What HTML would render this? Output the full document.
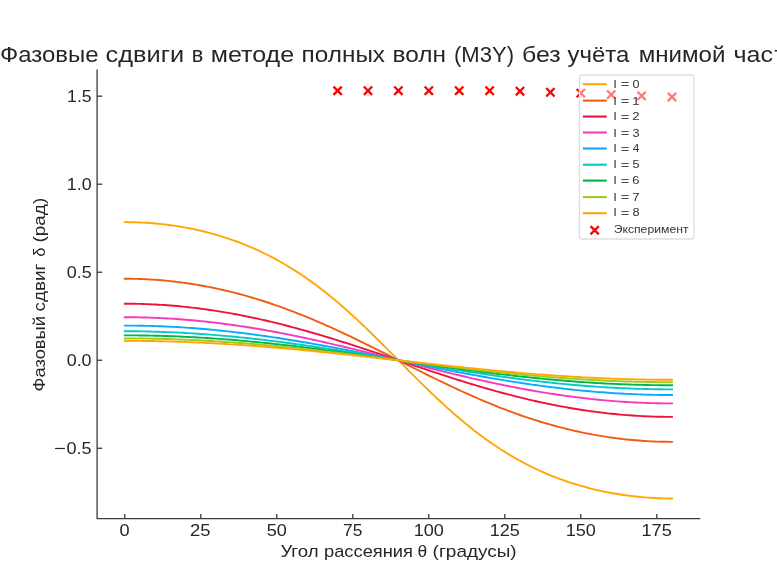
<!DOCTYPE html>
<html><head><meta charset="utf-8"><title>chart</title>
<style>
html,body{margin:0;padding:0;background:#fff;}
body{width:777px;height:583px;overflow:hidden;}
svg{display:block;will-change:transform;}
text{font-family:"Liberation Sans",sans-serif;fill:#262626;}
</style></head><body>
<svg width="777" height="583" viewBox="0 0 777 583">
<rect width="777" height="583" fill="#fff"/>
<polyline fill="none" stroke="#FFA703" stroke-width="1.90" stroke-linecap="square" stroke-linejoin="round" points="124.80,222.15 127.84,222.16 130.88,222.20 133.92,222.27 136.96,222.36 140.00,222.48 143.04,222.63 146.08,222.81 149.12,223.01 152.16,223.24 155.20,223.49 158.24,223.78 161.28,224.09 164.32,224.43 167.36,224.80 170.40,225.20 173.44,225.62 176.48,226.08 179.52,226.56 182.56,227.07 185.60,227.62 188.64,228.19 191.68,228.79 194.72,229.43 197.76,230.09 200.80,230.79 203.84,231.52 206.88,232.28 209.92,233.07 212.96,233.90 216.00,234.76 219.04,235.65 222.08,236.58 225.12,237.54 228.16,238.54 231.20,239.58 234.24,240.65 237.28,241.76 240.32,242.91 243.36,244.09 246.40,245.32 249.44,246.58 252.48,247.88 255.52,249.23 258.56,250.61 261.60,252.04 264.64,253.51 267.68,255.02 270.72,256.57 273.76,258.17 276.80,259.81 279.84,261.50 282.88,263.23 285.92,265.01 288.96,266.83 292.00,268.70 295.04,270.61 298.08,272.58 301.12,274.58 304.16,276.64 307.20,278.74 310.24,280.89 313.28,283.09 316.32,285.34 319.36,287.63 322.40,289.97 325.44,292.35 328.48,294.78 331.52,297.25 334.56,299.77 337.60,302.33 340.64,304.94 343.68,307.58 346.72,310.27 349.76,312.99 352.80,315.75 355.84,318.55 358.88,321.38 361.92,324.24 364.96,327.14 368.00,330.06 371.04,333.00 374.08,335.98 377.12,338.97 380.16,341.98 383.20,345.01 386.24,348.05 389.28,351.10 392.32,354.16 395.36,357.23 398.40,360.30 401.44,363.37 404.48,366.44 407.52,369.50 410.56,372.55 413.60,375.59 416.64,378.62 419.68,381.63 422.72,384.62 425.76,387.60 428.80,390.54 431.84,393.46 434.88,396.36 437.92,399.22 440.96,402.05 444.00,404.85 447.04,407.61 450.08,410.33 453.12,413.02 456.16,415.66 459.20,418.27 462.24,420.83 465.28,423.35 468.32,425.82 471.36,428.25 474.40,430.63 477.44,432.97 480.48,435.26 483.52,437.51 486.56,439.71 489.60,441.86 492.64,443.96 495.68,446.02 498.72,448.02 501.76,449.99 504.80,451.90 507.84,453.77 510.88,455.59 513.92,457.37 516.96,459.10 520.00,460.79 523.04,462.43 526.08,464.03 529.12,465.58 532.16,467.09 535.20,468.56 538.24,469.99 541.28,471.37 544.32,472.72 547.36,474.02 550.40,475.28 553.44,476.51 556.48,477.69 559.52,478.84 562.56,479.95 565.60,481.02 568.64,482.06 571.68,483.06 574.72,484.02 577.76,484.95 580.80,485.84 583.84,486.70 586.88,487.53 589.92,488.32 592.96,489.08 596.00,489.81 599.04,490.51 602.08,491.17 605.12,491.81 608.16,492.41 611.20,492.98 614.24,493.53 617.28,494.04 620.32,494.52 623.36,494.98 626.40,495.40 629.44,495.80 632.48,496.17 635.52,496.51 638.56,496.82 641.60,497.11 644.64,497.36 647.68,497.59 650.72,497.79 653.76,497.97 656.80,498.12 659.84,498.24 662.88,498.33 665.92,498.40 668.96,498.44 672.00,498.45"/>
<polyline fill="none" stroke="#F35C10" stroke-width="1.90" stroke-linecap="square" stroke-linejoin="round" points="124.80,278.74 127.84,278.76 130.88,278.79 133.92,278.84 136.96,278.92 140.00,279.01 143.04,279.13 146.08,279.27 149.12,279.43 152.16,279.61 155.20,279.82 158.24,280.04 161.28,280.29 164.32,280.56 167.36,280.85 170.40,281.16 173.44,281.49 176.48,281.85 179.52,282.22 182.56,282.62 185.60,283.04 188.64,283.48 191.68,283.94 194.72,284.43 197.76,284.93 200.80,285.46 203.84,286.01 206.88,286.58 209.92,287.17 212.96,287.79 216.00,288.42 219.04,289.08 222.08,289.76 225.12,290.46 228.16,291.18 231.20,291.92 234.24,292.69 237.28,293.47 240.32,294.28 243.36,295.11 246.40,295.96 249.44,296.83 252.48,297.72 255.52,298.63 258.56,299.57 261.60,300.52 264.64,301.50 267.68,302.49 270.72,303.51 273.76,304.55 276.80,305.60 279.84,306.68 282.88,307.77 285.92,308.89 288.96,310.02 292.00,311.17 295.04,312.34 298.08,313.53 301.12,314.74 304.16,315.97 307.20,317.21 310.24,318.47 313.28,319.74 316.32,321.04 319.36,322.35 322.40,323.67 325.44,325.01 328.48,326.36 331.52,327.73 334.56,329.11 337.60,330.51 340.64,331.92 343.68,333.34 346.72,334.77 349.76,336.21 352.80,337.66 355.84,339.13 358.88,340.60 361.92,342.08 364.96,343.57 368.00,345.07 371.04,346.57 374.08,348.08 377.12,349.59 380.16,351.12 383.20,352.64 386.24,354.17 389.28,355.70 392.32,357.23 395.36,358.77 398.40,360.30 401.44,361.83 404.48,363.37 407.52,364.90 410.56,366.43 413.60,367.96 416.64,369.48 419.68,371.01 422.72,372.52 425.76,374.03 428.80,375.53 431.84,377.03 434.88,378.52 437.92,380.00 440.96,381.47 444.00,382.94 447.04,384.39 450.08,385.83 453.12,387.26 456.16,388.68 459.20,390.09 462.24,391.49 465.28,392.87 468.32,394.24 471.36,395.59 474.40,396.93 477.44,398.25 480.48,399.56 483.52,400.86 486.56,402.13 489.60,403.39 492.64,404.63 495.68,405.86 498.72,407.07 501.76,408.26 504.80,409.43 507.84,410.58 510.88,411.71 513.92,412.83 516.96,413.92 520.00,415.00 523.04,416.05 526.08,417.09 529.12,418.11 532.16,419.10 535.20,420.08 538.24,421.03 541.28,421.97 544.32,422.88 547.36,423.77 550.40,424.64 553.44,425.49 556.48,426.32 559.52,427.13 562.56,427.91 565.60,428.68 568.64,429.42 571.68,430.14 574.72,430.84 577.76,431.52 580.80,432.18 583.84,432.81 586.88,433.43 589.92,434.02 592.96,434.59 596.00,435.14 599.04,435.67 602.08,436.17 605.12,436.66 608.16,437.12 611.20,437.56 614.24,437.98 617.28,438.38 620.32,438.75 623.36,439.11 626.40,439.44 629.44,439.75 632.48,440.04 635.52,440.31 638.56,440.56 641.60,440.78 644.64,440.99 647.68,441.17 650.72,441.33 653.76,441.47 656.80,441.59 659.84,441.68 662.88,441.76 665.92,441.81 668.96,441.84 672.00,441.86"/>
<polyline fill="none" stroke="#EF1339" stroke-width="1.90" stroke-linecap="square" stroke-linejoin="round" points="124.80,303.70 127.84,303.71 130.88,303.74 133.92,303.78 136.96,303.83 140.00,303.90 143.04,303.99 146.08,304.10 149.12,304.22 152.16,304.35 155.20,304.51 158.24,304.68 161.28,304.86 164.32,305.06 167.36,305.28 170.40,305.51 173.44,305.76 176.48,306.02 179.52,306.30 182.56,306.59 185.60,306.91 188.64,307.23 191.68,307.57 194.72,307.93 197.76,308.31 200.80,308.69 203.84,309.10 206.88,309.52 209.92,309.95 212.96,310.40 216.00,310.87 219.04,311.35 222.08,311.84 225.12,312.35 228.16,312.87 231.20,313.41 234.24,313.97 237.28,314.53 240.32,315.12 243.36,315.71 246.40,316.32 249.44,316.95 252.48,317.59 255.52,318.24 258.56,318.90 261.60,319.58 264.64,320.28 267.68,320.98 270.72,321.70 273.76,322.43 276.80,323.17 279.84,323.93 282.88,324.70 285.92,325.48 288.96,326.27 292.00,327.07 295.04,327.88 298.08,328.71 301.12,329.55 304.16,330.39 307.20,331.25 310.24,332.12 313.28,332.99 316.32,333.88 319.36,334.78 322.40,335.68 325.44,336.60 328.48,337.52 331.52,338.45 334.56,339.39 337.60,340.33 340.64,341.29 343.68,342.24 346.72,343.21 349.76,344.18 352.80,345.16 355.84,346.15 358.88,347.14 361.92,348.13 364.96,349.13 368.00,350.13 371.04,351.14 374.08,352.15 377.12,353.16 380.16,354.17 383.20,355.19 386.24,356.21 389.28,357.23 392.32,358.25 395.36,359.28 398.40,360.30 401.44,361.32 404.48,362.35 407.52,363.37 410.56,364.39 413.60,365.41 416.64,366.43 419.68,367.44 422.72,368.45 425.76,369.46 428.80,370.47 431.84,371.47 434.88,372.47 437.92,373.46 440.96,374.45 444.00,375.44 447.04,376.42 450.08,377.39 453.12,378.36 456.16,379.31 459.20,380.27 462.24,381.21 465.28,382.15 468.32,383.08 471.36,384.00 474.40,384.92 477.44,385.82 480.48,386.72 483.52,387.61 486.56,388.48 489.60,389.35 492.64,390.21 495.68,391.05 498.72,391.89 501.76,392.72 504.80,393.53 507.84,394.33 510.88,395.12 513.92,395.90 516.96,396.67 520.00,397.43 523.04,398.17 526.08,398.90 529.12,399.62 532.16,400.32 535.20,401.02 538.24,401.70 541.28,402.36 544.32,403.01 547.36,403.65 550.40,404.28 553.44,404.89 556.48,405.48 559.52,406.07 562.56,406.63 565.60,407.19 568.64,407.73 571.68,408.25 574.72,408.76 577.76,409.25 580.80,409.73 583.84,410.20 586.88,410.65 589.92,411.08 592.96,411.50 596.00,411.91 599.04,412.29 602.08,412.67 605.12,413.03 608.16,413.37 611.20,413.69 614.24,414.01 617.28,414.30 620.32,414.58 623.36,414.84 626.40,415.09 629.44,415.32 632.48,415.54 635.52,415.74 638.56,415.92 641.60,416.09 644.64,416.25 647.68,416.38 650.72,416.50 653.76,416.61 656.80,416.70 659.84,416.77 662.88,416.82 665.92,416.86 668.96,416.89 672.00,416.90"/>
<polyline fill="none" stroke="#F738BE" stroke-width="1.90" stroke-linecap="square" stroke-linejoin="round" points="124.80,317.21 127.84,317.21 130.88,317.23 133.92,317.26 136.96,317.31 140.00,317.37 143.04,317.44 146.08,317.52 149.12,317.61 152.16,317.72 155.20,317.84 158.24,317.97 161.28,318.11 164.32,318.27 167.36,318.44 170.40,318.62 173.44,318.82 176.48,319.02 179.52,319.24 182.56,319.47 185.60,319.71 188.64,319.97 191.68,320.23 194.72,320.51 197.76,320.80 200.80,321.11 203.84,321.42 206.88,321.75 209.92,322.09 212.96,322.43 216.00,322.80 219.04,323.17 222.08,323.55 225.12,323.95 228.16,324.35 231.20,324.77 234.24,325.20 237.28,325.64 240.32,326.09 243.36,326.55 246.40,327.02 249.44,327.50 252.48,327.99 255.52,328.49 258.56,329.00 261.60,329.52 264.64,330.05 267.68,330.59 270.72,331.14 273.76,331.70 276.80,332.27 279.84,332.85 282.88,333.44 285.92,334.03 288.96,334.64 292.00,335.25 295.04,335.87 298.08,336.50 301.12,337.13 304.16,337.78 307.20,338.43 310.24,339.08 313.28,339.75 316.32,340.42 319.36,341.10 322.40,341.78 325.44,342.48 328.48,343.17 331.52,343.87 334.56,344.58 337.60,345.30 340.64,346.01 343.68,346.74 346.72,347.47 349.76,348.20 352.80,348.93 355.84,349.67 358.88,350.42 361.92,351.17 364.96,351.92 368.00,352.67 371.04,353.42 374.08,354.18 377.12,354.94 380.16,355.70 383.20,356.47 386.24,357.23 389.28,358.00 392.32,358.77 395.36,359.53 398.40,360.30 401.44,361.07 404.48,361.83 407.52,362.60 410.56,363.37 413.60,364.13 416.64,364.90 419.68,365.66 422.72,366.42 425.76,367.18 428.80,367.93 431.84,368.68 434.88,369.43 437.92,370.18 440.96,370.93 444.00,371.67 447.04,372.40 450.08,373.13 453.12,373.86 456.16,374.59 459.20,375.30 462.24,376.02 465.28,376.73 468.32,377.43 471.36,378.12 474.40,378.82 477.44,379.50 480.48,380.18 483.52,380.85 486.56,381.52 489.60,382.17 492.64,382.82 495.68,383.47 498.72,384.10 501.76,384.73 504.80,385.35 507.84,385.96 510.88,386.57 513.92,387.16 516.96,387.75 520.00,388.33 523.04,388.90 526.08,389.46 529.12,390.01 532.16,390.55 535.20,391.08 538.24,391.60 541.28,392.11 544.32,392.61 547.36,393.10 550.40,393.58 553.44,394.05 556.48,394.51 559.52,394.96 562.56,395.40 565.60,395.83 568.64,396.25 571.68,396.65 574.72,397.05 577.76,397.43 580.80,397.80 583.84,398.17 586.88,398.51 589.92,398.85 592.96,399.18 596.00,399.49 599.04,399.80 602.08,400.09 605.12,400.37 608.16,400.63 611.20,400.89 614.24,401.13 617.28,401.36 620.32,401.58 623.36,401.78 626.40,401.98 629.44,402.16 632.48,402.33 635.52,402.49 638.56,402.63 641.60,402.76 644.64,402.88 647.68,402.99 650.72,403.08 653.76,403.16 656.80,403.23 659.84,403.29 662.88,403.34 665.92,403.37 668.96,403.39 672.00,403.39"/>
<polyline fill="none" stroke="#08ACFA" stroke-width="1.90" stroke-linecap="square" stroke-linejoin="round" points="124.80,325.58 127.84,325.58 130.88,325.60 133.92,325.62 136.96,325.66 140.00,325.71 143.04,325.76 146.08,325.83 149.12,325.91 152.16,325.99 155.20,326.09 158.24,326.20 161.28,326.32 164.32,326.45 167.36,326.58 170.40,326.73 173.44,326.89 176.48,327.06 179.52,327.24 182.56,327.42 185.60,327.62 188.64,327.83 191.68,328.05 194.72,328.28 197.76,328.51 200.80,328.76 203.84,329.01 206.88,329.28 209.92,329.55 212.96,329.84 216.00,330.13 219.04,330.44 222.08,330.75 225.12,331.07 228.16,331.40 231.20,331.74 234.24,332.08 237.28,332.44 240.32,332.80 243.36,333.18 246.40,333.56 249.44,333.95 252.48,334.35 255.52,334.75 258.56,335.17 261.60,335.59 264.64,336.02 267.68,336.45 270.72,336.90 273.76,337.35 276.80,337.81 279.84,338.28 282.88,338.75 285.92,339.23 288.96,339.72 292.00,340.21 295.04,340.71 298.08,341.21 301.12,341.73 304.16,342.24 307.20,342.77 310.24,343.30 313.28,343.83 316.32,344.37 319.36,344.92 322.40,345.47 325.44,346.02 328.48,346.58 331.52,347.15 334.56,347.71 337.60,348.29 340.64,348.86 343.68,349.44 346.72,350.03 349.76,350.61 352.80,351.20 355.84,351.80 358.88,352.39 361.92,352.99 364.96,353.59 368.00,354.19 371.04,354.80 374.08,355.41 377.12,356.01 380.16,356.62 383.20,357.23 386.24,357.85 389.28,358.46 392.32,359.07 395.36,359.69 398.40,360.30 401.44,360.91 404.48,361.53 407.52,362.14 410.56,362.75 413.60,363.37 416.64,363.98 419.68,364.59 422.72,365.19 425.76,365.80 428.80,366.41 431.84,367.01 434.88,367.61 437.92,368.21 440.96,368.80 444.00,369.40 447.04,369.99 450.08,370.57 453.12,371.16 456.16,371.74 459.20,372.31 462.24,372.89 465.28,373.45 468.32,374.02 471.36,374.58 474.40,375.13 477.44,375.68 480.48,376.23 483.52,376.77 486.56,377.30 489.60,377.83 492.64,378.36 495.68,378.87 498.72,379.39 501.76,379.89 504.80,380.39 507.84,380.88 510.88,381.37 513.92,381.85 516.96,382.32 520.00,382.79 523.04,383.25 526.08,383.70 529.12,384.15 532.16,384.58 535.20,385.01 538.24,385.43 541.28,385.85 544.32,386.25 547.36,386.65 550.40,387.04 553.44,387.42 556.48,387.80 559.52,388.16 562.56,388.52 565.60,388.86 568.64,389.20 571.68,389.53 574.72,389.85 577.76,390.16 580.80,390.47 583.84,390.76 586.88,391.05 589.92,391.32 592.96,391.59 596.00,391.84 599.04,392.09 602.08,392.32 605.12,392.55 608.16,392.77 611.20,392.98 614.24,393.18 617.28,393.36 620.32,393.54 623.36,393.71 626.40,393.87 629.44,394.02 632.48,394.15 635.52,394.28 638.56,394.40 641.60,394.51 644.64,394.61 647.68,394.69 650.72,394.77 653.76,394.84 656.80,394.89 659.84,394.94 662.88,394.98 665.92,395.00 668.96,395.02 672.00,395.02"/>
<polyline fill="none" stroke="#06CAC3" stroke-width="1.90" stroke-linecap="square" stroke-linejoin="round" points="124.80,331.25 127.84,331.25 130.88,331.27 133.92,331.29 136.96,331.32 140.00,331.36 143.04,331.41 146.08,331.46 149.12,331.53 152.16,331.60 155.20,331.68 158.24,331.77 161.28,331.87 164.32,331.98 167.36,332.10 170.40,332.22 173.44,332.36 176.48,332.50 179.52,332.65 182.56,332.81 185.60,332.97 188.64,333.15 191.68,333.33 194.72,333.52 197.76,333.72 200.80,333.93 203.84,334.14 206.88,334.37 209.92,334.60 212.96,334.84 216.00,335.09 219.04,335.34 222.08,335.60 225.12,335.87 228.16,336.15 231.20,336.43 234.24,336.72 237.28,337.02 240.32,337.33 243.36,337.64 246.40,337.96 249.44,338.29 252.48,338.62 255.52,338.96 258.56,339.31 261.60,339.67 264.64,340.03 267.68,340.39 270.72,340.76 273.76,341.14 276.80,341.53 279.84,341.92 282.88,342.31 285.92,342.72 288.96,343.12 292.00,343.54 295.04,343.95 298.08,344.38 301.12,344.80 304.16,345.24 307.20,345.68 310.24,346.12 313.28,346.56 316.32,347.02 319.36,347.47 322.40,347.93 325.44,348.39 328.48,348.86 331.52,349.33 334.56,349.81 337.60,350.28 340.64,350.76 343.68,351.25 346.72,351.74 349.76,352.22 352.80,352.72 355.84,353.21 358.88,353.71 361.92,354.21 364.96,354.71 368.00,355.21 371.04,355.71 374.08,356.22 377.12,356.73 380.16,357.24 383.20,357.75 386.24,358.26 389.28,358.77 392.32,359.28 395.36,359.79 398.40,360.30 401.44,360.81 404.48,361.32 407.52,361.83 410.56,362.34 413.60,362.85 416.64,363.36 419.68,363.87 422.72,364.38 425.76,364.89 428.80,365.39 431.84,365.89 434.88,366.39 437.92,366.89 440.96,367.39 444.00,367.88 447.04,368.38 450.08,368.86 453.12,369.35 456.16,369.84 459.20,370.32 462.24,370.79 465.28,371.27 468.32,371.74 471.36,372.21 474.40,372.67 477.44,373.13 480.48,373.58 483.52,374.04 486.56,374.48 489.60,374.92 492.64,375.36 495.68,375.80 498.72,376.22 501.76,376.65 504.80,377.06 507.84,377.48 510.88,377.88 513.92,378.29 516.96,378.68 520.00,379.07 523.04,379.46 526.08,379.84 529.12,380.21 532.16,380.57 535.20,380.93 538.24,381.29 541.28,381.64 544.32,381.98 547.36,382.31 550.40,382.64 553.44,382.96 556.48,383.27 559.52,383.58 562.56,383.88 565.60,384.17 568.64,384.45 571.68,384.73 574.72,385.00 577.76,385.26 580.80,385.51 583.84,385.76 586.88,386.00 589.92,386.23 592.96,386.46 596.00,386.67 599.04,386.88 602.08,387.08 605.12,387.27 608.16,387.45 611.20,387.63 614.24,387.79 617.28,387.95 620.32,388.10 623.36,388.24 626.40,388.38 629.44,388.50 632.48,388.62 635.52,388.73 638.56,388.83 641.60,388.92 644.64,389.00 647.68,389.07 650.72,389.14 653.76,389.19 656.80,389.24 659.84,389.28 662.88,389.31 665.92,389.33 668.96,389.35 672.00,389.35"/>
<polyline fill="none" stroke="#02B648" stroke-width="1.90" stroke-linecap="square" stroke-linejoin="round" points="124.80,335.34 127.84,335.34 130.88,335.36 133.92,335.37 136.96,335.40 140.00,335.43 143.04,335.48 146.08,335.52 149.12,335.58 152.16,335.64 155.20,335.71 158.24,335.79 161.28,335.88 164.32,335.97 167.36,336.07 170.40,336.18 173.44,336.30 176.48,336.42 179.52,336.55 182.56,336.68 185.60,336.83 188.64,336.98 191.68,337.14 194.72,337.30 197.76,337.47 200.80,337.65 203.84,337.84 206.88,338.03 209.92,338.23 212.96,338.44 216.00,338.65 219.04,338.87 222.08,339.09 225.12,339.33 228.16,339.56 231.20,339.81 234.24,340.06 237.28,340.32 240.32,340.58 243.36,340.85 246.40,341.13 249.44,341.41 252.48,341.70 255.52,341.99 258.56,342.29 261.60,342.59 264.64,342.90 267.68,343.22 270.72,343.54 273.76,343.86 276.80,344.19 279.84,344.53 282.88,344.87 285.92,345.21 288.96,345.56 292.00,345.92 295.04,346.28 298.08,346.64 301.12,347.01 304.16,347.38 307.20,347.76 310.24,348.14 313.28,348.52 316.32,348.91 319.36,349.30 322.40,349.69 325.44,350.09 328.48,350.49 331.52,350.90 334.56,351.30 337.60,351.71 340.64,352.12 343.68,352.54 346.72,352.96 349.76,353.38 352.80,353.80 355.84,354.22 358.88,354.65 361.92,355.08 364.96,355.51 368.00,355.94 371.04,356.37 374.08,356.80 377.12,357.24 380.16,357.67 383.20,358.11 386.24,358.55 389.28,358.98 392.32,359.42 395.36,359.86 398.40,360.30 401.44,360.74 404.48,361.18 407.52,361.62 410.56,362.05 413.60,362.49 416.64,362.93 419.68,363.36 422.72,363.80 425.76,364.23 428.80,364.66 431.84,365.09 434.88,365.52 437.92,365.95 440.96,366.38 444.00,366.80 447.04,367.22 450.08,367.64 453.12,368.06 456.16,368.48 459.20,368.89 462.24,369.30 465.28,369.70 468.32,370.11 471.36,370.51 474.40,370.91 477.44,371.30 480.48,371.69 483.52,372.08 486.56,372.46 489.60,372.84 492.64,373.22 495.68,373.59 498.72,373.96 501.76,374.32 504.80,374.68 507.84,375.04 510.88,375.39 513.92,375.73 516.96,376.07 520.00,376.41 523.04,376.74 526.08,377.06 529.12,377.38 532.16,377.70 535.20,378.01 538.24,378.31 541.28,378.61 544.32,378.90 547.36,379.19 550.40,379.47 553.44,379.75 556.48,380.02 559.52,380.28 562.56,380.54 565.60,380.79 568.64,381.04 571.68,381.27 574.72,381.51 577.76,381.73 580.80,381.95 583.84,382.16 586.88,382.37 589.92,382.57 592.96,382.76 596.00,382.95 599.04,383.13 602.08,383.30 605.12,383.46 608.16,383.62 611.20,383.77 614.24,383.92 617.28,384.05 620.32,384.18 623.36,384.30 626.40,384.42 629.44,384.53 632.48,384.63 635.52,384.72 638.56,384.81 641.60,384.89 644.64,384.96 647.68,385.02 650.72,385.08 653.76,385.12 656.80,385.17 659.84,385.20 662.88,385.23 665.92,385.24 668.96,385.26 672.00,385.26"/>
<polyline fill="none" stroke="#9BCC1E" stroke-width="1.90" stroke-linecap="square" stroke-linejoin="round" points="124.80,338.43 127.84,338.43 130.88,338.44 133.92,338.46 136.96,338.48 140.00,338.51 143.04,338.54 146.08,338.59 149.12,338.64 152.16,338.69 155.20,338.75 158.24,338.82 161.28,338.90 164.32,338.98 167.36,339.07 170.40,339.16 173.44,339.27 176.48,339.37 179.52,339.49 182.56,339.61 185.60,339.73 188.64,339.87 191.68,340.00 194.72,340.15 197.76,340.30 200.80,340.46 203.84,340.62 206.88,340.79 209.92,340.96 212.96,341.15 216.00,341.33 219.04,341.52 222.08,341.72 225.12,341.93 228.16,342.14 231.20,342.35 234.24,342.57 237.28,342.80 240.32,343.03 243.36,343.27 246.40,343.51 249.44,343.75 252.48,344.01 255.52,344.26 258.56,344.53 261.60,344.79 264.64,345.06 267.68,345.34 270.72,345.62 273.76,345.91 276.80,346.20 279.84,346.49 282.88,346.79 285.92,347.09 288.96,347.40 292.00,347.71 295.04,348.02 298.08,348.34 301.12,348.67 304.16,348.99 307.20,349.32 310.24,349.65 313.28,349.99 316.32,350.33 319.36,350.67 322.40,351.02 325.44,351.36 328.48,351.72 331.52,352.07 334.56,352.43 337.60,352.78 340.64,353.15 343.68,353.51 346.72,353.87 349.76,354.24 352.80,354.61 355.84,354.98 358.88,355.36 361.92,355.73 364.96,356.11 368.00,356.48 371.04,356.86 374.08,357.24 377.12,357.62 380.16,358.00 383.20,358.38 386.24,358.77 389.28,359.15 392.32,359.53 395.36,359.92 398.40,360.30 401.44,360.68 404.48,361.07 407.52,361.45 410.56,361.83 413.60,362.22 416.64,362.60 419.68,362.98 422.72,363.36 425.76,363.74 428.80,364.12 431.84,364.49 434.88,364.87 437.92,365.24 440.96,365.62 444.00,365.99 447.04,366.36 450.08,366.73 453.12,367.09 456.16,367.45 459.20,367.82 462.24,368.17 465.28,368.53 468.32,368.88 471.36,369.24 474.40,369.58 477.44,369.93 480.48,370.27 483.52,370.61 486.56,370.95 489.60,371.28 492.64,371.61 495.68,371.93 498.72,372.26 501.76,372.58 504.80,372.89 507.84,373.20 510.88,373.51 513.92,373.81 516.96,374.11 520.00,374.40 523.04,374.69 526.08,374.98 529.12,375.26 532.16,375.54 535.20,375.81 538.24,376.07 541.28,376.34 544.32,376.59 547.36,376.85 550.40,377.09 553.44,377.33 556.48,377.57 559.52,377.80 562.56,378.03 565.60,378.25 568.64,378.46 571.68,378.67 574.72,378.88 577.76,379.08 580.80,379.27 583.84,379.45 586.88,379.64 589.92,379.81 592.96,379.98 596.00,380.14 599.04,380.30 602.08,380.45 605.12,380.60 608.16,380.73 611.20,380.87 614.24,380.99 617.28,381.11 620.32,381.23 623.36,381.33 626.40,381.44 629.44,381.53 632.48,381.62 635.52,381.70 638.56,381.78 641.60,381.85 644.64,381.91 647.68,381.96 650.72,382.01 653.76,382.06 656.80,382.09 659.84,382.12 662.88,382.14 665.92,382.16 668.96,382.17 672.00,382.17"/>
<polyline fill="none" stroke="#FFA703" stroke-width="1.90" stroke-linecap="square" stroke-linejoin="round" points="124.80,340.84 127.84,340.84 130.88,340.85 133.92,340.86 136.96,340.88 140.00,340.91 143.04,340.94 146.08,340.98 149.12,341.02 152.16,341.07 155.20,341.13 158.24,341.19 161.28,341.26 164.32,341.33 167.36,341.41 170.40,341.49 173.44,341.58 176.48,341.68 179.52,341.78 182.56,341.89 185.60,342.00 188.64,342.12 191.68,342.24 194.72,342.37 197.76,342.51 200.80,342.65 203.84,342.79 206.88,342.94 209.92,343.10 212.96,343.26 216.00,343.43 219.04,343.60 222.08,343.77 225.12,343.96 228.16,344.14 231.20,344.33 234.24,344.53 237.28,344.73 240.32,344.94 243.36,345.15 246.40,345.36 249.44,345.58 252.48,345.81 255.52,346.04 258.56,346.27 261.60,346.51 264.64,346.75 267.68,347.00 270.72,347.25 273.76,347.50 276.80,347.76 279.84,348.02 282.88,348.29 285.92,348.56 288.96,348.83 292.00,349.10 295.04,349.38 298.08,349.67 301.12,349.95 304.16,350.24 307.20,350.54 310.24,350.83 313.28,351.13 316.32,351.43 319.36,351.74 322.40,352.05 325.44,352.36 328.48,352.67 331.52,352.98 334.56,353.30 337.60,353.62 340.64,353.94 343.68,354.26 346.72,354.59 349.76,354.91 352.80,355.24 355.84,355.57 358.88,355.90 361.92,356.24 364.96,356.57 368.00,356.91 371.04,357.24 374.08,357.58 377.12,357.92 380.16,358.26 383.20,358.60 386.24,358.94 389.28,359.28 392.32,359.62 395.36,359.96 398.40,360.30 401.44,360.64 404.48,360.98 407.52,361.32 410.56,361.66 413.60,362.00 416.64,362.34 419.68,362.68 422.72,363.02 425.76,363.36 428.80,363.69 431.84,364.03 434.88,364.36 437.92,364.70 440.96,365.03 444.00,365.36 447.04,365.69 450.08,366.01 453.12,366.34 456.16,366.66 459.20,366.98 462.24,367.30 465.28,367.62 468.32,367.93 471.36,368.24 474.40,368.55 477.44,368.86 480.48,369.17 483.52,369.47 486.56,369.77 489.60,370.06 492.64,370.36 495.68,370.65 498.72,370.93 501.76,371.22 504.80,371.50 507.84,371.77 510.88,372.04 513.92,372.31 516.96,372.58 520.00,372.84 523.04,373.10 526.08,373.35 529.12,373.60 532.16,373.85 535.20,374.09 538.24,374.33 541.28,374.56 544.32,374.79 547.36,375.02 550.40,375.24 553.44,375.45 556.48,375.66 559.52,375.87 562.56,376.07 565.60,376.27 568.64,376.46 571.68,376.64 574.72,376.83 577.76,377.00 580.80,377.17 583.84,377.34 586.88,377.50 589.92,377.66 592.96,377.81 596.00,377.95 599.04,378.09 602.08,378.23 605.12,378.36 608.16,378.48 611.20,378.60 614.24,378.71 617.28,378.82 620.32,378.92 623.36,379.02 626.40,379.11 629.44,379.19 632.48,379.27 635.52,379.34 638.56,379.41 641.60,379.47 644.64,379.53 647.68,379.58 650.72,379.62 653.76,379.66 656.80,379.69 659.84,379.72 662.88,379.74 665.92,379.75 668.96,379.76 672.00,379.76"/>
<path d="M333.45 86.60L341.75 94.90M333.45 94.90L341.75 86.60" stroke="#FF0000" stroke-width="2.30" fill="none"/>
<path d="M363.85 86.55L372.15 94.85M363.85 94.85L372.15 86.55" stroke="#FF0000" stroke-width="2.30" fill="none"/>
<path d="M394.25 86.55L402.55 94.85M394.25 94.85L402.55 86.55" stroke="#FF0000" stroke-width="2.30" fill="none"/>
<path d="M424.65 86.55L432.95 94.85M424.65 94.85L432.95 86.55" stroke="#FF0000" stroke-width="2.30" fill="none"/>
<path d="M455.05 86.55L463.35 94.85M455.05 94.85L463.35 86.55" stroke="#FF0000" stroke-width="2.30" fill="none"/>
<path d="M485.45 86.55L493.75 94.85M485.45 94.85L493.75 86.55" stroke="#FF0000" stroke-width="2.30" fill="none"/>
<path d="M515.85 87.05L524.15 95.35M515.85 95.35L524.15 87.05" stroke="#FF0000" stroke-width="2.30" fill="none"/>
<path d="M546.25 88.15L554.55 96.45M546.25 96.45L554.55 88.15" stroke="#FF0000" stroke-width="2.30" fill="none"/>
<path d="M576.65 88.95L584.95 97.25M576.65 97.25L584.95 88.95" stroke="#FF0000" stroke-width="2.30" fill="none"/>
<path d="M607.05 90.45L615.35 98.75M607.05 98.75L615.35 90.45" stroke="#FF0000" stroke-width="2.30" fill="none"/>
<path d="M637.45 91.75L645.75 100.05M637.45 100.05L645.75 91.75" stroke="#FF0000" stroke-width="2.30" fill="none"/>
<path d="M667.85 92.85L676.15 101.15M667.85 101.15L676.15 92.85" stroke="#FF0000" stroke-width="2.30" fill="none"/>
<path d="M97.10 70.05L97.10 518.60L699.60 518.60" stroke="#3a3a3a" stroke-width="1.3" fill="none" stroke-linecap="square"/>
<path d="M124.80 518.60V514.00" stroke="#3a3a3a" stroke-width="1.3"/>
<text x="119.59" y="536.20" font-size="16.60" textLength="10.12" lengthAdjust="spacingAndGlyphs">0</text>
<path d="M200.80 518.60V514.00" stroke="#3a3a3a" stroke-width="1.3"/>
<text x="189.97" y="536.20" font-size="16.60" textLength="20.50" lengthAdjust="spacingAndGlyphs">25</text>
<path d="M276.80 518.60V514.00" stroke="#3a3a3a" stroke-width="1.3"/>
<text x="266.68" y="536.20" font-size="16.60" textLength="20.13" lengthAdjust="spacingAndGlyphs">50</text>
<path d="M352.80 518.60V514.00" stroke="#3a3a3a" stroke-width="1.3"/>
<text x="343.01" y="536.20" font-size="16.60" textLength="19.32" lengthAdjust="spacingAndGlyphs">75</text>
<path d="M428.80 518.60V514.00" stroke="#3a3a3a" stroke-width="1.3"/>
<text x="413.72" y="536.20" font-size="16.60" textLength="30.18" lengthAdjust="spacingAndGlyphs">100</text>
<path d="M504.80 518.60V514.00" stroke="#3a3a3a" stroke-width="1.3"/>
<text x="489.72" y="536.20" font-size="16.60" textLength="30.13" lengthAdjust="spacingAndGlyphs">125</text>
<path d="M580.80 518.60V514.00" stroke="#3a3a3a" stroke-width="1.3"/>
<text x="565.72" y="536.20" font-size="16.60" textLength="30.18" lengthAdjust="spacingAndGlyphs">150</text>
<path d="M656.80 518.60V514.00" stroke="#3a3a3a" stroke-width="1.3"/>
<text x="641.52" y="536.20" font-size="16.60" textLength="30.24" lengthAdjust="spacingAndGlyphs">175</text>
<path d="M97.10 96.17H102.30" stroke="#3a3a3a" stroke-width="1.3"/>
<text x="67.05" y="102.37" font-size="16.60" textLength="24.59" lengthAdjust="spacingAndGlyphs">1.5</text>
<path d="M97.10 184.20H102.30" stroke="#3a3a3a" stroke-width="1.3"/>
<text x="66.84" y="190.40" font-size="16.60" textLength="24.75" lengthAdjust="spacingAndGlyphs">1.0</text>
<path d="M97.10 272.23H102.30" stroke="#3a3a3a" stroke-width="1.3"/>
<text x="66.70" y="278.43" font-size="16.60" textLength="24.96" lengthAdjust="spacingAndGlyphs">0.5</text>
<path d="M97.10 360.25H102.30" stroke="#3a3a3a" stroke-width="1.3"/>
<text x="66.70" y="366.45" font-size="16.60" textLength="24.90" lengthAdjust="spacingAndGlyphs">0.0</text>
<path d="M97.10 448.27H102.30" stroke="#3a3a3a" stroke-width="1.3"/>
<text x="66.49" y="454.47" font-size="16.60" textLength="25.17" lengthAdjust="spacingAndGlyphs">0.5</text>
<text x="53.90" y="454.47" font-size="16.60" textLength="11.90" lengthAdjust="spacingAndGlyphs">−</text>
<text x="280.42" y="556.80" font-size="17.20" textLength="38.11" lengthAdjust="spacingAndGlyphs">Угол</text>
<text x="324.02" y="556.80" font-size="17.20" textLength="88.95" lengthAdjust="spacingAndGlyphs">рассеяния</text>
<text x="417.50" y="556.80" font-size="17.20" textLength="9.71" lengthAdjust="spacingAndGlyphs">θ</text>
<text x="432.63" y="556.80" font-size="17.20" textLength="84.04" lengthAdjust="spacingAndGlyphs">(градусы)</text>
<text transform="translate(45.20 390.40) rotate(-90)" x="-1.05" y="0" font-size="17.2" textLength="75.41" lengthAdjust="spacingAndGlyphs">Фазовый</text>
<text transform="translate(45.20 310.60) rotate(-90)" x="-0.80" y="0" font-size="17.2" textLength="47.75" lengthAdjust="spacingAndGlyphs">сдвиг</text>
<text transform="translate(45.20 256.00) rotate(-90)" x="-0.69" y="0" font-size="17.2" textLength="9.20" lengthAdjust="spacingAndGlyphs">δ</text>
<text transform="translate(45.20 241.30) rotate(-90)" x="-1.17" y="0" font-size="17.2" textLength="44.64" lengthAdjust="spacingAndGlyphs">(рад)</text>
<text x="-0.07" y="61.80" font-size="21.20" textLength="98.63" lengthAdjust="spacingAndGlyphs">Фазовые</text>
<text x="105.62" y="61.80" font-size="21.20" textLength="78.43" lengthAdjust="spacingAndGlyphs">сдвиги</text>
<text x="191.89" y="61.80" font-size="21.20" textLength="11.55" lengthAdjust="spacingAndGlyphs">в</text>
<text x="210.70" y="61.80" font-size="21.20" textLength="83.39" lengthAdjust="spacingAndGlyphs">методе</text>
<text x="301.62" y="61.80" font-size="21.20" textLength="83.44" lengthAdjust="spacingAndGlyphs">полных</text>
<text x="392.63" y="61.80" font-size="21.20" textLength="53.43" lengthAdjust="spacingAndGlyphs">волн</text>
<text x="454.03" y="61.80" font-size="21.20" textLength="60.04" lengthAdjust="spacingAndGlyphs">(M3Y)</text>
<text x="521.97" y="61.80" font-size="21.20" textLength="38.64" lengthAdjust="spacingAndGlyphs">без</text>
<text x="567.64" y="61.80" font-size="21.20" textLength="61.76" lengthAdjust="spacingAndGlyphs">учёта</text>
<text x="638.73" y="61.80" font-size="21.20" textLength="86.74" lengthAdjust="spacingAndGlyphs">мнимой</text>
<text x="733.51" y="61.80" font-size="21.20" textLength="39.45" lengthAdjust="spacingAndGlyphs">час</text>
<text x="774.29" y="61.80" font-size="21.20" textLength="24.37" lengthAdjust="spacingAndGlyphs">ти</text>
<rect x="579.50" y="75.00" width="114.40" height="164.00" rx="2.6" ry="2.6" fill="#fff" fill-opacity="0.47" stroke="#dedede" stroke-width="1.3"/>
<path d="M583.9 84.20H605.7" stroke="#FFA703" stroke-width="2.1" stroke-linecap="square"/>
<text x="613.54" y="87.60" font-size="11.20" textLength="3.16" lengthAdjust="spacingAndGlyphs" style="fill:#404040">l</text>
<text x="620.68" y="88.40" font-size="11.00" textLength="8.65" lengthAdjust="spacingAndGlyphs" style="fill:#4a4a4a">=</text>
<text x="632.51" y="87.60" font-size="11.80" textLength="6.98" lengthAdjust="spacingAndGlyphs" style="fill:#333333">0</text>
<path d="M583.9 100.65H605.7" stroke="#F35C10" stroke-width="2.1" stroke-linecap="square"/>
<text x="613.54" y="104.50" font-size="11.20" textLength="3.16" lengthAdjust="spacingAndGlyphs" style="fill:#404040">l</text>
<text x="620.68" y="105.30" font-size="11.00" textLength="8.65" lengthAdjust="spacingAndGlyphs" style="fill:#4a4a4a">=</text>
<text x="631.94" y="104.50" font-size="11.80" textLength="7.74" lengthAdjust="spacingAndGlyphs" style="fill:#333333">1</text>
<path d="M583.9 116.55H605.7" stroke="#EF1339" stroke-width="2.1" stroke-linecap="square"/>
<text x="613.54" y="120.40" font-size="11.20" textLength="3.16" lengthAdjust="spacingAndGlyphs" style="fill:#404040">l</text>
<text x="620.68" y="121.20" font-size="11.00" textLength="8.65" lengthAdjust="spacingAndGlyphs" style="fill:#4a4a4a">=</text>
<text x="632.34" y="120.40" font-size="11.80" textLength="7.32" lengthAdjust="spacingAndGlyphs" style="fill:#333333">2</text>
<path d="M583.9 132.50H605.7" stroke="#F738BE" stroke-width="2.1" stroke-linecap="square"/>
<text x="613.54" y="136.50" font-size="11.20" textLength="3.16" lengthAdjust="spacingAndGlyphs" style="fill:#404040">l</text>
<text x="620.68" y="137.30" font-size="11.00" textLength="8.65" lengthAdjust="spacingAndGlyphs" style="fill:#4a4a4a">=</text>
<text x="632.52" y="136.50" font-size="11.80" textLength="7.04" lengthAdjust="spacingAndGlyphs" style="fill:#333333">3</text>
<path d="M583.9 148.50H605.7" stroke="#08ACFA" stroke-width="2.1" stroke-linecap="square"/>
<text x="613.54" y="152.40" font-size="11.20" textLength="3.16" lengthAdjust="spacingAndGlyphs" style="fill:#404040">l</text>
<text x="620.68" y="153.20" font-size="11.00" textLength="8.65" lengthAdjust="spacingAndGlyphs" style="fill:#4a4a4a">=</text>
<text x="632.73" y="152.40" font-size="11.80" textLength="6.62" lengthAdjust="spacingAndGlyphs" style="fill:#333333">4</text>
<path d="M583.9 164.70H605.7" stroke="#06CAC3" stroke-width="2.1" stroke-linecap="square"/>
<text x="613.54" y="168.30" font-size="11.20" textLength="3.16" lengthAdjust="spacingAndGlyphs" style="fill:#404040">l</text>
<text x="620.68" y="169.10" font-size="11.00" textLength="8.65" lengthAdjust="spacingAndGlyphs" style="fill:#4a4a4a">=</text>
<text x="632.49" y="168.30" font-size="11.80" textLength="7.04" lengthAdjust="spacingAndGlyphs" style="fill:#333333">5</text>
<path d="M583.9 180.60H605.7" stroke="#02B648" stroke-width="2.1" stroke-linecap="square"/>
<text x="613.54" y="184.20" font-size="11.20" textLength="3.16" lengthAdjust="spacingAndGlyphs" style="fill:#404040">l</text>
<text x="620.68" y="185.00" font-size="11.00" textLength="8.65" lengthAdjust="spacingAndGlyphs" style="fill:#4a4a4a">=</text>
<text x="632.34" y="184.20" font-size="11.80" textLength="7.23" lengthAdjust="spacingAndGlyphs" style="fill:#333333">6</text>
<path d="M583.9 197.10H605.7" stroke="#9BCC1E" stroke-width="2.1" stroke-linecap="square"/>
<text x="613.54" y="200.60" font-size="11.20" textLength="3.16" lengthAdjust="spacingAndGlyphs" style="fill:#404040">l</text>
<text x="620.68" y="201.40" font-size="11.00" textLength="8.65" lengthAdjust="spacingAndGlyphs" style="fill:#4a4a4a">=</text>
<text x="632.32" y="200.60" font-size="11.80" textLength="7.34" lengthAdjust="spacingAndGlyphs" style="fill:#333333">7</text>
<path d="M583.9 213.20H605.7" stroke="#FFA703" stroke-width="2.1" stroke-linecap="square"/>
<text x="613.54" y="216.40" font-size="11.20" textLength="3.16" lengthAdjust="spacingAndGlyphs" style="fill:#404040">l</text>
<text x="620.68" y="217.20" font-size="11.00" textLength="8.65" lengthAdjust="spacingAndGlyphs" style="fill:#4a4a4a">=</text>
<text x="632.44" y="216.40" font-size="11.80" textLength="7.11" lengthAdjust="spacingAndGlyphs" style="fill:#333333">8</text>
<path d="M590.50 226.10L598.80 234.40M590.50 234.40L598.80 226.10" stroke="#FF0000" stroke-width="2.30" fill="none"/>
<text x="613.67" y="232.70" font-size="11.50" textLength="74.84" lengthAdjust="spacingAndGlyphs" style="fill:#333333">Эксперимент</text>
</svg>
</body></html>
